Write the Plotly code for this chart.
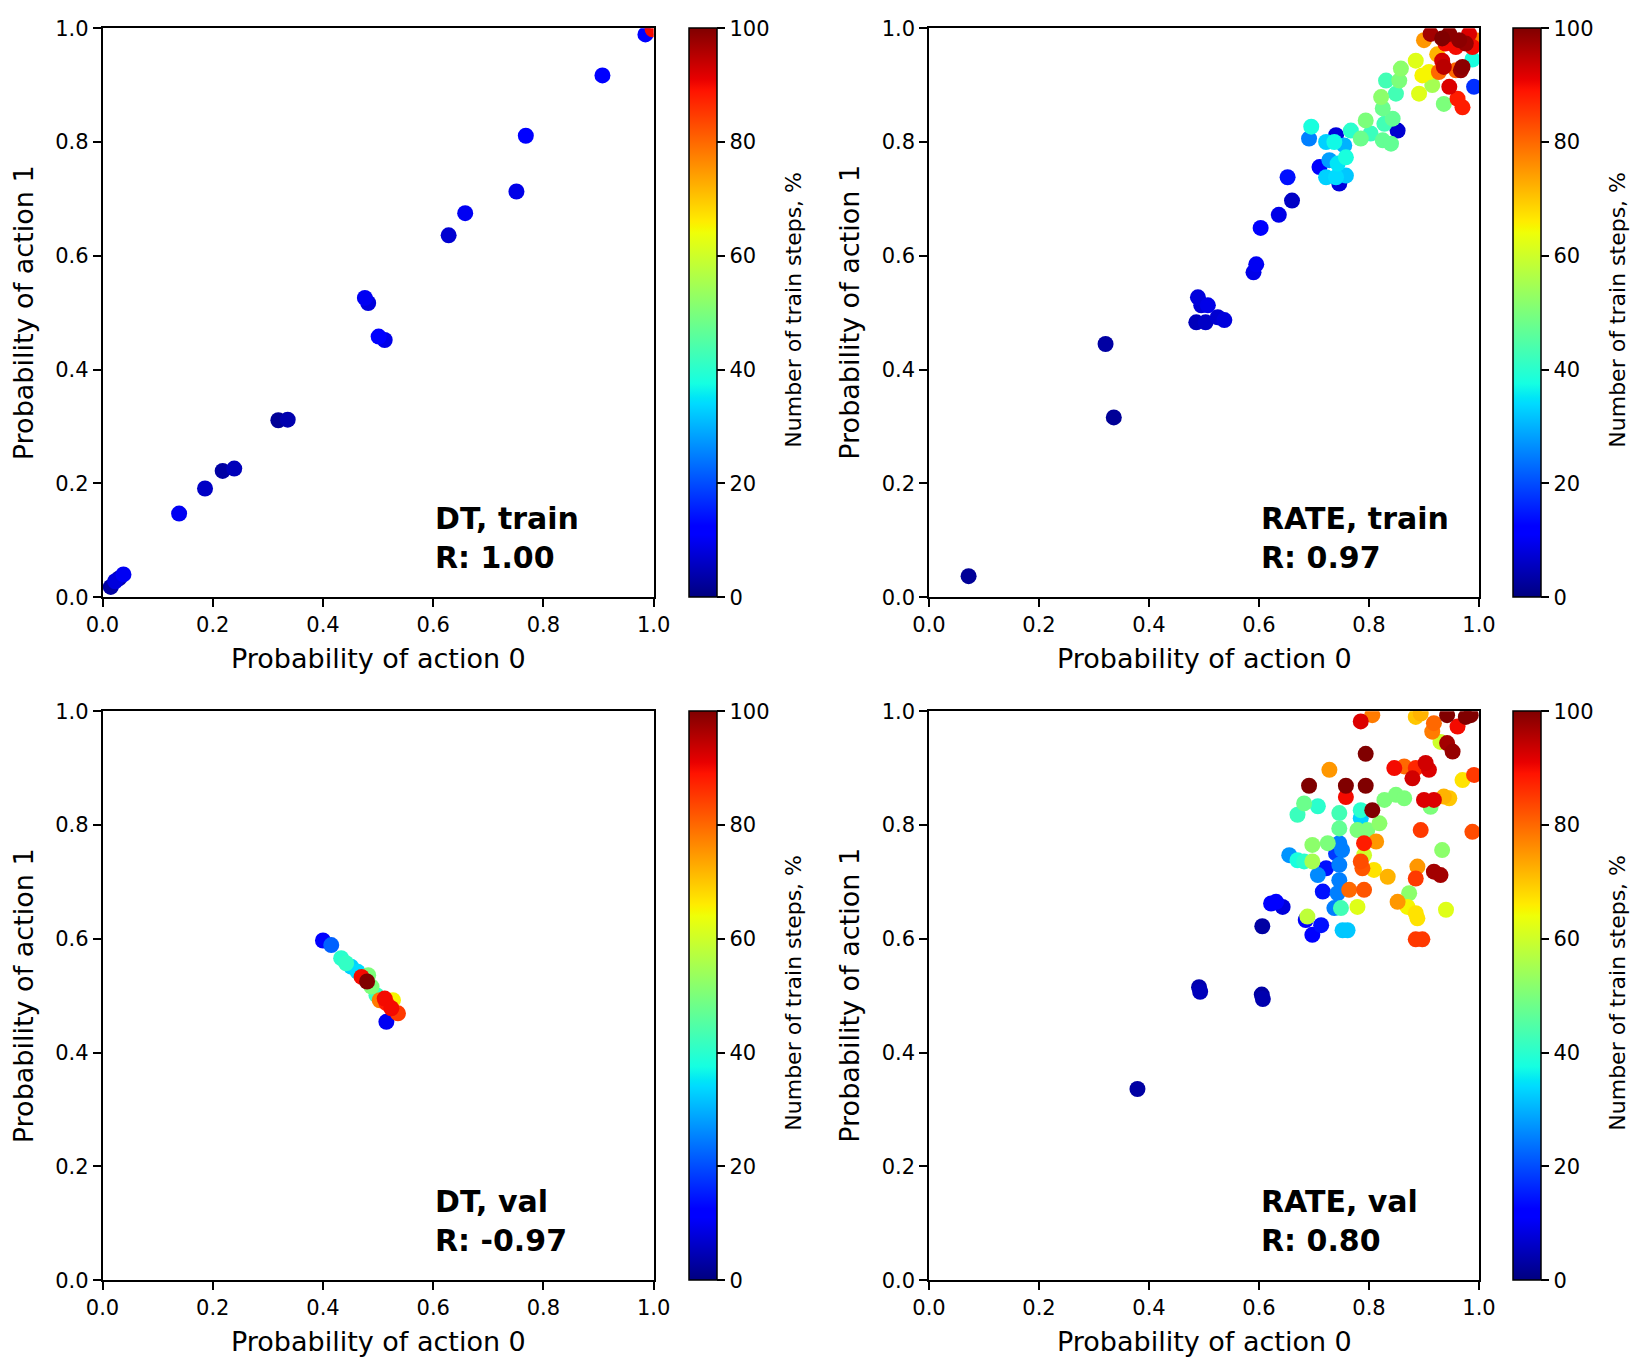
import numpy as np
import plotly.graph_objects as go

# ---------------- data ----------------
tick_vals = [0.0, 0.2, 0.4, 0.6, 0.8, 1.0]
tick_labels = ["0.0", "0.2", "0.4", "0.6", "0.8", "1.0"]
cbar_vals = [0, 20, 40, 60, 80, 100]
cbar_labels = ["0", "20", "40", "60", "80", "100"]

dt_train_x = [0.998, 0.015, 0.023, 0.030, 0.038, 0.139, 0.186, 0.218, 0.239, 0.319, 0.336,
              0.476, 0.482, 0.501, 0.512, 0.628, 0.658, 0.751, 0.768, 0.907, 0.985]
dt_train_y = [0.998, 0.018, 0.028, 0.033, 0.040, 0.147, 0.191, 0.222, 0.226, 0.311, 0.312,
              0.526, 0.517, 0.458, 0.452, 0.636, 0.675, 0.713, 0.811, 0.917, 0.989]
dt_train_c = [90, 3, 8, 4, 10, 10, 6, 3, 5, 2, 4,
              10, 8, 11, 9, 7, 10, 9, 12, 11, 12]

rate_train_x = [0.072, 0.321, 0.336, 0.489, 0.495, 0.507, 0.486, 0.503, 0.525, 0.537,
                0.590, 0.595, 0.603, 0.636, 0.660, 0.652,
                0.695, 0.691, 0.740, 0.722, 0.755, 0.737, 0.767, 0.710, 0.728, 0.758,
                0.743, 0.722, 0.746, 0.758, 0.740,
                0.794, 0.785, 0.803, 0.825, 0.840, 0.828, 0.843, 0.852, 0.822, 0.825,
                0.849, 0.831, 0.855, 0.858,
                0.885, 0.891, 0.897, 0.909, 0.915, 0.936,
                0.946, 0.961, 0.970, 0.991, 0.988,
                0.933, 0.936, 0.967, 0.970, 0.958, 0.924, 0.900, 0.912, 0.933, 0.946,
                0.976, 0.982, 0.964, 0.988, 0.994, 0.927, 0.939, 0.958]
rate_train_y = [0.037, 0.445, 0.316, 0.527, 0.513, 0.513, 0.483, 0.483, 0.492, 0.487,
                0.571, 0.585, 0.649, 0.672, 0.697, 0.738,
                0.827, 0.806, 0.812, 0.800, 0.794, 0.800, 0.820, 0.756, 0.768, 0.773,
                0.762, 0.738, 0.727, 0.741, 0.738,
                0.838, 0.806, 0.815, 0.803, 0.797, 0.832, 0.841, 0.820, 0.879, 0.859,
                0.885, 0.908, 0.908, 0.929,
                0.943, 0.885, 0.917, 0.923, 0.900, 0.867,
                0.897, 0.876, 0.861, 0.897, 0.945,
                0.943, 0.932, 0.926, 0.932, 0.926, 0.954, 0.979, 0.990, 0.982, 0.990,
                0.973, 0.990, 0.979, 0.967, 0.979, 0.923, 0.973, 0.967]
rate_train_c = [2, 3, 2, 8, 7, 9, 5, 6, 7, 8,
                9, 10, 11, 9, 6, 14,
                38, 25, 8, 33, 30, 37, 40, 12, 28, 38,
                35, 33, 8, 32, 34,
                50, 48, 42, 47, 47, 43, 47, 7, 52, 48,
                43, 43, 50, 52,
                62, 62, 65, 65, 55, 50,
                92, 88, 88, 17, 38,
                93, 95, 98, 99, 80, 72, 75, 97, 100, 99,
                98, 92, 99, 90, 78, 80, 90, 90]

dt_val_x = [0.400, 0.415, 0.433, 0.442, 0.451, 0.463, 0.470, 0.480, 0.482,
            0.488, 0.497, 0.503, 0.512, 0.515, 0.527, 0.524, 0.536, 0.515]
dt_val_y = [0.597, 0.589, 0.566, 0.557, 0.551, 0.542, 0.533, 0.525, 0.536,
            0.516, 0.501, 0.492, 0.495, 0.487, 0.492, 0.478, 0.469, 0.454]
dt_val_c = [12, 22, 40, 41, 33, 34, 90, 100, 50,
            50, 42, 78, 90, 88, 65, 90, 85, 10]

rate_val_x = [0.379, 0.491, 0.493, 0.605, 0.607, 0.606, 0.631, 0.643, 0.622, 0.685,
              0.697, 0.713, 0.688, 0.752, 0.761, 0.737, 0.749, 0.716, 0.743, 0.746,
              0.722, 0.707, 0.746, 0.740, 0.751, 0.746, 0.655, 0.670, 0.682, 0.697,
              0.697, 0.725, 0.670, 0.682, 0.707, 0.746, 0.746, 0.785, 0.785, 0.806,
              0.779, 0.797, 0.819, 0.791, 0.813, 0.791, 0.785, 0.788, 0.809, 0.834,
              0.764, 0.791, 0.779, 0.828, 0.849, 0.864, 0.691, 0.758, 0.794, 0.758,
              0.728, 0.846, 0.864, 0.879, 0.885, 0.903, 0.909, 0.794, 0.785, 0.806,
              0.885, 0.894, 0.918, 0.915, 0.930, 0.942, 0.952, 0.961, 0.942, 0.976,
              0.985, 0.970, 0.991, 0.900, 0.918, 0.912, 0.936, 0.946, 0.894, 0.988,
              0.933, 0.888, 0.885, 0.918, 0.930, 0.873, 0.852, 0.870, 0.885, 0.888,
              0.940, 0.885, 0.897]
rate_val_y = [0.336, 0.515, 0.507, 0.502, 0.494, 0.622, 0.665, 0.656, 0.662, 0.633,
              0.607, 0.624, 0.639, 0.615, 0.615, 0.654, 0.654, 0.683, 0.680, 0.703,
              0.724, 0.712, 0.730, 0.750, 0.756, 0.768, 0.747, 0.738, 0.736, 0.736,
              0.765, 0.768, 0.818, 0.838, 0.833, 0.821, 0.794, 0.826, 0.812, 0.826,
              0.791, 0.791, 0.803, 0.768, 0.771, 0.747, 0.736, 0.724, 0.721, 0.709,
              0.686, 0.686, 0.656, 0.844, 0.853, 0.847, 0.869, 0.869, 0.869, 0.849,
              0.897, 0.900, 0.903, 0.882, 0.900, 0.909, 0.897, 0.925, 0.982, 0.993,
              0.990, 0.996, 0.979, 0.964, 0.946, 0.944, 0.929, 0.973, 0.993, 0.990,
              0.993, 0.879, 0.888, 0.844, 0.844, 0.832, 0.850, 0.847, 0.791, 0.788,
              0.756, 0.727, 0.706, 0.718, 0.712, 0.680, 0.665, 0.656, 0.645, 0.636,
              0.651, 0.599, 0.599]
rate_val_c = [3, 4, 5, 3, 4, 3, 12, 8, 12, 12,
              12, 14, 58, 32, 32, 25, 43, 14, 25, 25,
              14, 26, 25, 18, 25, 25, 27, 38, 40, 55,
              52, 50, 42, 48, 40, 43, 47, 40, 33, 100,
              50, 50, 52, 88, 75, 60, 83, 82, 67, 72,
              80, 82, 62, 50, 50, 50, 100, 100, 100, 90,
              75, 90, 80, 93, 87, 93, 92, 100, 92, 78,
              70, 72, 80, 78, 60, 97, 98, 90, 100, 100,
              100, 67, 85, 92, 92, 50, 72, 70, 85, 83,
              52, 75, 85, 97, 97, 52, 75, 65, 67, 67,
              62, 85, 85]

panel_titles = ["DT, train", "RATE, train", "DT, val", "RATE, val"]
panel_r = ["R: 1.00", "R: 0.97", "R: -0.97", "R: 0.80"]
x_title = "Probability of action 0"
y_title = "Probability of action 1"
cbar_title = "Number of train steps, %"

# ---------------- style / layout ----------------
W, H = 1640, 1365
FONT = "DejaVu Sans"
TICK_SIZE = 21


def jet_scale():
    pos = [0, 0.11, 0.125, 0.34, 0.35, 0.375, 0.64, 0.65, 0.66, 0.89, 0.91, 1.0]
    r = np.interp(pos, [0, 0.35, 0.66, 0.89, 1], [0, 0, 1, 1, 0.5])
    g = np.interp(pos, [0, 0.125, 0.375, 0.64, 0.91, 1], [0, 0, 1, 1, 0, 0])
    b = np.interp(pos, [0, 0.11, 0.34, 0.65, 1], [0.5, 1, 1, 0, 0])
    return [[p, "rgb(%d,%d,%d)" % (round(rr * 255), round(gg * 255), round(bb * 255))]
            for p, rr, gg, bb in zip(pos, r, g, b)]


JET = jet_scale()


def px_x(v):
    return v / W


def px_y(v):
    return 1 - v / H


col_px = [(102.5, 653.7), (929.0, 1479.0)]
row_px = [(28.2, 597.2), (711.2, 1280.2)]
cbar_left_px = [689.0, 1513.4]
cbar_title_px = [794.0, 1618.0]

datasets = [
    (dt_train_x, dt_train_y, dt_train_c),
    (rate_train_x, rate_train_y, rate_train_c),
    (dt_val_x, dt_val_y, dt_val_c),
    (rate_val_x, rate_val_y, rate_val_c),
]

fig = go.Figure()
annotations = []
layout_axes = {}

for i, (xs, ys, cs) in enumerate(datasets):
    r, c = divmod(i, 2)
    x0, x1 = col_px[c]
    y0, y1 = row_px[r]
    xd = [px_x(x0), px_x(x1)]
    yd = [px_y(y1), px_y(y0)]
    n = i + 1
    xa = "x" if n == 1 else "x%d" % n
    ya = "y" if n == 1 else "y%d" % n

    order = np.argsort(np.asarray(cs), kind="stable")
    xs_o = [xs[k] for k in order]
    ys_o = [ys[k] for k in order]
    cs_o = [cs[k] for k in order]

    fig.add_trace(go.Scatter(
        x=xs_o, y=ys_o, mode="markers", xaxis=xa, yaxis=ya,
        marker=dict(
            size=16, color=cs_o, colorscale=JET, cmin=0, cmax=100,
            line=dict(width=0), opacity=1,
            showscale=True,
            colorbar=dict(
                x=px_x(cbar_left_px[c]), xanchor="left", xpad=0,
                y=yd[0], yanchor="bottom", ypad=0,
                len=yd[1] - yd[0], lenmode="fraction",
                thickness=28, thicknessmode="pixels",
                outlinewidth=1.5, outlinecolor="black",
                tickvals=cbar_vals, ticktext=cbar_labels,
                ticks="outside", ticklen=8, tickwidth=1.5, tickcolor="black",
                tickfont=dict(size=TICK_SIZE, family=FONT, color="black"),
            ),
        ),
        showlegend=False, hoverinfo="skip",
    ))

    axis_common = dict(
        range=[0, 1], tickvals=tick_vals, ticktext=tick_labels,
        ticks="outside", ticklen=8, tickwidth=1.5, tickcolor="black",
        showline=True, linecolor="black", linewidth=1.5, mirror=True,
        showgrid=False, zeroline=False, automargin=False,
        tickfont=dict(size=TICK_SIZE, family=FONT, color="black"),
    )
    layout_axes["xaxis" if n == 1 else "xaxis%d" % n] = dict(axis_common, domain=xd, anchor=ya)
    layout_axes["yaxis" if n == 1 else "yaxis%d" % n] = dict(axis_common, domain=yd, anchor=xa)

    # axis titles
    annotations.append(dict(
        text=x_title, xref="paper", yref="paper",
        x=px_x((x0 + x1) / 2), y=px_y(y1 + 61), xanchor="center", yanchor="middle",
        showarrow=False, font=dict(size=27, family=FONT, color="black")))
    annotations.append(dict(
        text=y_title, xref="paper", yref="paper",
        x=px_x(x0 - 79), y=px_y((y0 + y1) / 2), xanchor="center", yanchor="middle",
        textangle=-90, showarrow=False, font=dict(size=27, family=FONT, color="black")))
    # colorbar title
    annotations.append(dict(
        text=cbar_title, xref="paper", yref="paper",
        x=px_x(cbar_title_px[c]), y=px_y((y0 + y1) / 2 - 3), xanchor="center", yanchor="middle",
        textangle=-90, showarrow=False, font=dict(size=22, family=FONT, color="black")))
    # panel text
    annotations.append(dict(
        text="<b>%s</b><br><b>%s</b>" % (panel_titles[i], panel_r[i]),
        xref=xa, yref=ya, x=0.6, y=0.036, xanchor="left", yanchor="bottom",
        align="left", showarrow=False, font=dict(size=30, family=FONT, color="black")))

fig.update_layout(
    width=W, height=H, margin=dict(l=0, r=0, t=0, b=0, autoexpand=False),
    paper_bgcolor="white", plot_bgcolor="white",
    font=dict(family=FONT, color="black"),
    annotations=annotations,
    **layout_axes,
)

fig.write_html("out.html")
